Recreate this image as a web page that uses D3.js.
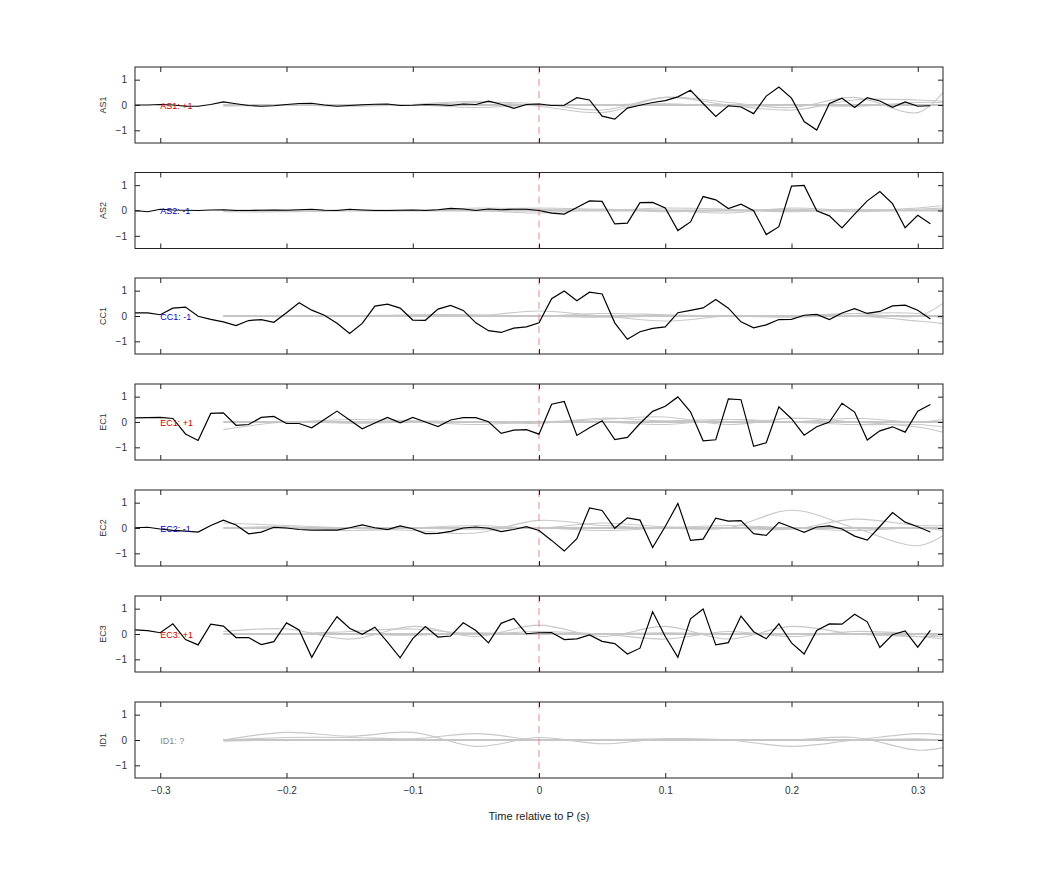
<!DOCTYPE html><html><head><meta charset="utf-8">
<script src="https://cdn.jsdelivr.net/npm/d3@7"></script>
<style>body{margin:0;background:#fff}svg{font-family:"Liberation Sans",Arial,sans-serif}</style></head><body>
<svg id="c" width="1042" height="875"></svg>
<script>
const channels=["AS1","AS2","CC1","EC1","EC2","EC3","ID1"];
const labels=["AS1: +1","AS2: -1","CC1: -1","EC1: +1","EC2: -1","EC3: +1","ID1: ?"];
const labelColors=["#d00000","#0000c8","#0000c8","#d00000","#0000c8","#d00000","#888888"];
const xTicks=[-0.3,-0.2,-0.1,0,0.1,0.2,0.3];
const yTicks=[-1,0,1];
const blackTimes=d3.range(64).map(i=>+(-0.32+i*0.01).toFixed(2));
const grayTimes=[-0.25,-0.2,-0.15,-0.1,-0.05,0,0.05,0.1,0.15,0.2,0.25,0.3,0.32];
const AS1=[0,0,0.02,0,-0.05,-0.05,0.02,0.12,0.05,-0.02,-0.05,-0.03,0.02,0.06,0.07,0,-0.05,-0.02,0.01,0.03,0.04,-0.02,-0.01,0.02,0.01,-0.02,0.04,0.02,0.15,0.03,-0.13,0.02,0.04,-0.02,-0.01,0.29,0.2,-0.44,-0.56,-0.12,-0.01,0.1,0.17,0.32,0.58,0.06,-0.45,-0.03,-0.08,-0.34,0.35,0.71,0.27,-0.65,-0.99,0.06,0.27,-0.1,0.29,0.16,-0.09,0.12,-0.05,-0.03];
const AS2=[0,-0.05,0.05,0.02,0.01,0,0.02,0.03,0,0,0.01,0.02,0.01,0.03,0.05,0.01,0,0.05,0.02,0,0,0.01,0.02,0,0.03,0.08,0.06,0,0.06,0.03,0.05,0.05,0,-0.1,-0.14,0.12,0.38,0.36,-0.53,-0.5,0.31,0.32,0.1,-0.79,-0.45,0.55,0.42,0.08,0.25,-0.01,-0.95,-0.64,0.96,0.99,-0.01,-0.21,-0.69,-0.14,0.38,0.75,0.27,-0.68,-0.19,-0.52];
const CC1=[0.12,0.12,0.05,0.31,0.35,-0.01,-0.13,-0.23,-0.38,-0.18,-0.14,-0.25,0.13,0.52,0.23,0.03,-0.29,-0.69,-0.29,0.39,0.47,0.31,-0.16,-0.17,0.27,0.42,0.22,-0.27,-0.58,-0.65,-0.48,-0.43,-0.27,0.68,0.99,0.6,0.94,0.87,-0.27,-0.92,-0.62,-0.49,-0.43,0.13,0.22,0.32,0.65,0.31,-0.23,-0.47,-0.35,-0.14,-0.13,0.03,0.06,-0.14,0.12,0.29,0.1,0.18,0.4,0.43,0.23,-0.12];
const EC1=[0.16,0.17,0.18,0.14,-0.47,-0.73,0.34,0.36,-0.13,-0.1,0.18,0.22,-0.06,-0.06,-0.23,0.1,0.43,0.08,-0.27,-0.04,0.18,-0.03,0.18,0,-0.18,0.08,0.17,0.17,0.01,-0.45,-0.32,-0.3,-0.48,0.7,0.81,-0.53,-0.23,0.05,-0.69,-0.61,-0.06,0.42,0.62,0.99,0.4,-0.74,-0.7,0.91,0.88,-0.96,-0.82,0.6,0.13,-0.52,-0.19,0,0.74,0.39,-0.71,-0.35,-0.19,-0.4,0.43,0.69];
const EC2=[0.01,0.03,-0.04,-0.09,-0.12,-0.16,0.1,0.31,0.12,-0.23,-0.16,0.03,0,-0.06,-0.08,-0.08,-0.08,0.01,0.12,0.01,-0.06,0.08,-0.03,-0.22,-0.21,-0.13,0,0.04,-0.01,-0.14,-0.06,0.05,-0.1,-0.49,-0.91,-0.42,0.79,0.69,-0.01,0.4,0.31,-0.77,0.06,0.97,-0.49,-0.44,0.39,0.27,0.29,-0.22,-0.29,0.22,0.03,-0.17,0.04,0.08,-0.04,-0.32,-0.48,0.06,0.61,0.23,0.05,-0.16];
const EC3=[0.16,0.13,0.05,0.4,-0.22,-0.43,0.39,0.31,-0.14,-0.14,-0.42,-0.3,0.44,0.16,-0.92,-0.03,0.68,0.23,-0.01,0.27,-0.32,-0.94,-0.18,0.29,-0.12,-0.08,0.44,0.14,-0.35,0.42,0.61,0.01,0.05,0.06,-0.22,-0.19,-0.04,-0.29,-0.38,-0.79,-0.56,0.88,-0.1,-0.92,0.6,0.99,-0.43,-0.34,0.71,0.09,-0.19,0.4,-0.35,-0.79,0.14,0.4,0.39,0.78,0.48,-0.53,-0.03,0.12,-0.52,0.14];
const blackSeries=[AS1,AS2,CC1,EC1,EC2,EC3,null];
const gray1=[[0,0,0,0,0,0,0,0,0,0,0,0,0],[0,0,0,0,0.1,0.05,-0.2,0.3,0,-0.2,0.2,0.2,0.15],[0,0,0,0.02,0.15,-0.05,-0.3,0.3,0.1,-0.1,0.3,-0.3,0.5],[-0.05,0,-0.05,0,-0.1,0,0,0.05,-0.05,0,-0.05,0.1,0.1]];
const gray2=[[0,0,0,0,0,0,0,0,0,0,0,0,0],[0,0,0,0,0.05,0.1,0.05,0,-0.1,0.1,0,0.1,0.2],[-0.05,-0.05,0,0,0.1,0.05,0,0.1,0.05,-0.05,0.05,0,0.05],[0,0,0,0,0,-0.1,0.05,-0.05,0,0.05,-0.05,0.05,0.1]];
const gray3=[[0,0,0,0,0,0,0,0,0,0,0,0,0],[0,0,0,0,0,0.2,0,-0.2,0,0,0.1,0.1,-0.1],[0,0,0,0.05,0.05,0,0.1,0.05,0,0,0.1,0,0.5],[0,0,0,0,0.02,0,-0.05,0,0,-0.05,0,-0.2,-0.3]];
const gray4=[[0,0,0,0,0,0,0,0,0,0,0,0,0],[-0.3,0,-0.05,0,0,0,0.1,0.2,-0.1,0.15,0,-0.2,-0.4],[0,0,0.1,0.05,0,-0.05,0.15,0.05,0.1,0,0.15,0,0.1],[0,0,0,0,-0.1,0,0,-0.1,0.1,0,-0.1,-0.1,-0.2]];
const gray5=[[0,0,0,0,0,0,0,0,0,0,0,0,0],[0.2,0.1,0,-0.1,-0.2,0.3,0.1,0,0,0.7,0,-0.7,-0.3],[0,0.05,-0.1,0,0.1,0,0.2,0.05,0,-0.05,0.35,0.1,0.1],[0,0,0,0,-0.05,0,-0.1,0,0.1,0,-0.1,0,-0.1]];
const gray6=[[0,0,0,0,0,0,0,0,0,0,0,0,0],[0.1,0.2,-0.2,0.3,-0.1,0.35,-0.1,0.3,-0.2,0.3,0,-0.1,-0.2],[0,0,0.1,0.2,0,0.1,0,-0.2,0.1,-0.1,0.1,0,-0.1],[0,0,0,-0.05,0.05,0,0,0.05,0,0,0,-0.1,-0.1]];
const gray7=[[0,0,0,0,0,0,0,0,0,0,0,0,0],[0,0.3,0.15,0.3,-0.25,0.1,-0.15,0.05,0,-0.25,0,0.25,0.2],[0,0.1,0.1,0.05,0.25,0,0,0.05,0,0,0.1,-0.4,-0.3],[-0.05,0,0,0,0,0,0,0,0,0,0,0.05,0]];
const graySeries=[gray1,gray2,gray3,gray4,gray5,gray6,gray7];

const svg=d3.select("#c");
const L=135,R=943,H=76,tops=[67,172.5,278,384,490,596,702];
const x=d3.scaleLinear().domain([-0.32,0.32]).range([L,R]);
channels.forEach((ch,i)=>{
  const t=tops[i];
  const y=d3.scaleLinear().domain([-1.5,1.5]).range([t+H,t]);
  const g=svg.append("g");
  const clip="clip"+i;
  g.append("clipPath").attr("id",clip).append("rect").attr("x",L).attr("y",t).attr("width",R-L).attr("height",H);
  const pg=g.append("g").attr("clip-path",`url(#${clip})`);
  const gl=d3.line().x((d,j)=>x(grayTimes[j])).y(d=>y(d)).curve(d3.curveCatmullRom);
  graySeries[i].forEach((s,k)=>{
    pg.append("path").attr("d",gl(s)).attr("fill","none").attr("stroke",k===0?"#c4c4c4":"#c8c8c8").attr("stroke-width",k===0?2.2:1.1);
  });
  pg.append("line").attr("x1",x(0)).attr("x2",x(0)).attr("y1",t).attr("y2",t+H).attr("stroke","#e88").attr("stroke-width",1).attr("stroke-dasharray","7,5");
  g.append("text").attr("x",x(-0.3)).attr("y",y(0)+3.5).attr("font-size",9).attr("fill",labelColors[i]).text(labels[i]);
  if(blackSeries[i]){
    const bl=d3.line().x((d,j)=>x(blackTimes[j])).y(d=>y(d));
    pg.append("path").attr("d",bl(blackSeries[i])).attr("fill","none").attr("stroke","#000").attr("stroke-width",1.2);
  }
  const last=i===channels.length-1;
  g.append("g").attr("transform",`translate(0,${t+H})`).call(d3.axisBottom(x).tickValues(xTicks).tickSizeInner(-5).tickSizeOuter(0).tickPadding(9).tickFormat(last?d3.format(""):()=>""));
  g.append("g").attr("transform",`translate(0,${t})`).call(d3.axisTop(x).tickValues(xTicks).tickSizeInner(-5).tickSizeOuter(0).tickFormat(()=>""));
  g.append("g").attr("transform",`translate(${L},0)`).call(d3.axisLeft(y).tickValues(yTicks).tickSizeInner(-5).tickSizeOuter(0).tickPadding(8).tickFormat(d3.format("")));
  g.append("g").attr("transform",`translate(${R},0)`).call(d3.axisRight(y).tickValues(yTicks).tickSizeInner(-5).tickSizeOuter(0).tickFormat(()=>""));
  g.append("rect").attr("x",L).attr("y",t).attr("width",R-L).attr("height",H).attr("fill","none").attr("stroke","#222").attr("stroke-width",1);
  g.append("text").attr("transform",`translate(106,${t+H/2}) rotate(-90)`).attr("text-anchor","middle").attr("font-size",9).attr("fill","#333").text(ch);
});
svg.selectAll(".domain").remove();
svg.selectAll(".tick line").attr("stroke","#222");
svg.selectAll(".tick text").attr("font-size",10).attr("fill","#333").attr("font-family","Liberation Sans, Arial, sans-serif");
svg.append("text").attr("x",x(0)).attr("y",820).attr("text-anchor","middle").attr("font-size",11).attr("fill","#222").text("Time relative to P (s)");
</script></body></html>
